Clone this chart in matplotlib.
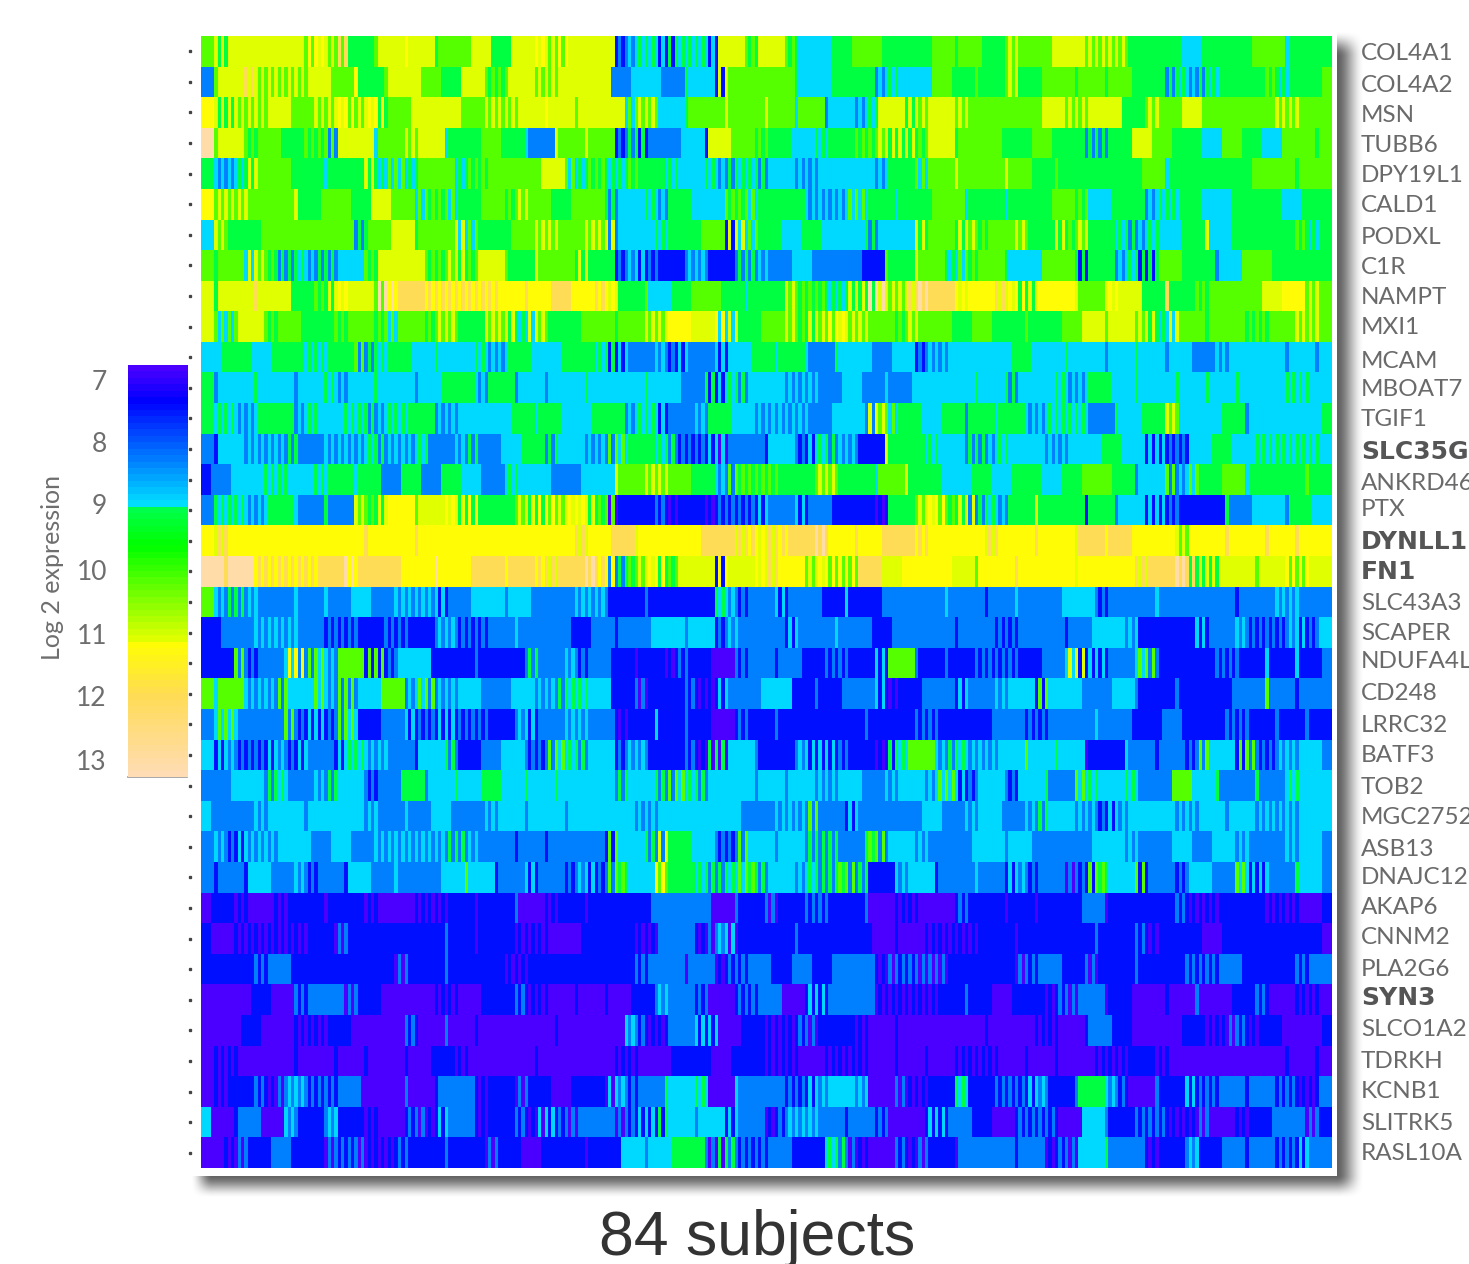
import numpy as np
import matplotlib
matplotlib.use('Agg')
import matplotlib.pyplot as plt
from matplotlib.colors import LinearSegmentedColormap
from matplotlib.patches import Rectangle

W, H = 1469, 1264

gene_labels = ['COL4A1', 'COL4A2', 'MSN', 'TUBB6', 'DPY19L1', 'CALD1', 'PODXL', 'C1R', 'NAMPT', 'MXI1',
               'MCAM', 'MBOAT7', 'TGIF1', 'SLC35G2', 'ANKRD46', 'PTX', 'DYNLL1', 'FN1', 'SLC43A3', 'SCAPER',
               'NDUFA4L2', 'CD248', 'LRRC32', 'BATF3', 'TOB2', 'MGC27522', 'ASB13', 'DNAJC12', 'AKAP6', 'CNNM2',
               'PLA2G6', 'SYN3', 'SLCO1A2', 'TDRKH', 'KCNB1', 'SLITRK5', 'RASL10A']
bold_genes = ['SLC35G2', 'DYNLL1', 'FN1', 'SYN3']
label_y = [51, 84, 114, 143, 174, 204, 236, 266, 295, 326, 359, 388, 418, 450, 482, 508, 540, 570, 602,
           631, 660, 692, 724, 754, 786, 815, 847, 876, 906, 935, 967, 996, 1028, 1060, 1090, 1122, 1151]

colorbar_ticks = [7, 8, 9, 10, 11, 12, 13]

# log2 expression, one letter per stripe
code_values = {'P': 6.76, 'B': 7.4, 'A': 8.23, 'C': 8.9, 'G': 9.1, 'L': 10.17,
               'Y': 11.1, 'W': 11.2, 'O': 12.0, 'T': 13.1}

expression_rows = [
    "LYGYYYYYYY LWYLOGGLYY WYYGLLLYYG GYYWYLWYYY YBACGCBGCG CBYYLGYYLG CCCGGLLLGG GGGLLGLLGG LYLLLYYYLY LYLGGGGGCC GGGGGLLLCG GGG",
    "ALYYOYLYLY LYYLLWGGLY YYLLGGYYLG LYYLYLYYYY YAACCCAAGC CBYLLLLLLG CCCGGGGACG CCCLLGGLGG LYGGLLLGLL GLLGGGAGCA GCGGGGLGCG GGL",
    "WYGYLYLYYL LYLYWLYWGL LYYYYYLLYL YLYYWYYLYY YYCLYLCCGL LLYLLLYLLC LLACCACGYY GYLYYLYLLL LLLLYYLYLY YYGGLYLLYY LLLLLLLYLY LLL",
    "TLYYLGLLGG LGLAYYYCLL YLYYCGGGLL GGCAAYLLYL LBAGBAAACC BYYLLGLGGC CGCGGLGLYG YGLYYGLLLL GGGLLGGGAG AGGYYLLGGG CCLLGGCCLL LGL",
    "GCACGYLLLG GGCGGGYGCL CGLLLCGLGL LLLLYYLCGL GCGLGGCGCC GCAGCGACCA CACCCCCACG GLCLLYLLLL YLLGGLGGGG GGGGLLCGGG GGGGGLLLLG LLL",
    "WLYLYLLLLY GGLLLGGYYL LCLGLCGGLL GLYLLGGLLL GACCGCAGGC CCLGLCGGGG CACACLCGGC GGGLLLCGGG CGGGGLLGLC CGGGACGCGG CCCGGGGGCC GGG",
    "CYLGGGLLLL LLLLLAGLLY YGLLLYCLGG GLLYLYLLYL YACCCGCGGG LLBYCLGGCC GGCCCCGACC CYGLLGYLGL LYLGGYGLYG GCGACGCCGG YCCGGGGGGL GCG",
    "LGLLCYLGAG CAGACCLGYY YYLGLYGLYY LGGYLLLGYG GBACBABBAC ABBAGACAAC CAAAAABBLG GYLLGCLGLL GCCCLLLGBG GACGBGLLGG GACCLLLGGG GGG",
    "YGYYYOYYYG GLGYWYYLTW OOWOWOWOWO WWOWWOOWWO WYGGLCCGGL LLGGCGGGYL GLGCGYGTYL YOTOOWYWWO YWGYWWWYLL YWYYGGOGGL GLLLLLYYWW LYL",
    "YLCLYYLGLL GGGLGLLGLC LLGLYLGGYL YGCYLGGGLL LGLLYLYWWY YWCYGGLLYL GYLWYLYLLG LYLLLGGLLG GGLGGGLLYY LYYLYGCYLL GLLLGLGLLY LYL",
    "CCGGGCCGGG CGCGGLAGCG GCCGCCCGCA CGGCCCGGGC GBCAACABCA ACBCCGGCGG CAAGCCCAAC CBACACCCCC CGGCCCGCCC ACCGCCACCA ACACCCCCAC CAC",
    "GACCCGCCCA CCGCACCGCC CACCGGGCAG GACCACCCGC CCCCGCCCAA GBCGACCCAC ACAACCAACA ACCCCCCGCC GACCCGCACG GCCGCCCGCC GCCGCCCCGC GCC",
    "GCGCACGGGA CGCCGCGACG CGGACACCCC CGGCGGCCCG GGACGCBAAC AGGCCACACA CAACCCAYLC GGCCGGAGGC GGCACGCGCA AGCCGGYLCC CCGGACCCCC CCG",
    "ABCCACACAG AACACACGAC ACGAACAGAA CCGGAGCCAC ALCGGCGABA BCPAAABCCA BCGACABBYG GGCGCCAGAC GCCCACACCC GGCCBCBABC CGGCCGCGCG CGC",
    "BAACCCGCGC CGCGGCGGAA GGAAGGCCAA CGCCCAAACC CYLLYLYLLG GCALGLGLGG GLYLGGGCLL YGGGCCCGGC CGGGCCGGLL LGGACCLACL GGLLCGGGGG LGG",
    "AGCGCACGGC AAGAAYLGYW WLYYWYGWGG GLYGWLYWYG LPBBBABPBB PBABABCAAC BAABBBBPBG GLYWLGYAGC AGGYGGGGBG GACCBCBABB BBGAACCCAG GCC",
    "WYOWWWWWWW WWWWWWOWWW WOWWWWWWWW WWWWWWWOYW WOOYWWWWWW OOOYOWYOWO OTOWWOWWOO OWOWWWWWYO WWWOWWWYOO WOOWWWWYLW WWOWWWOWWO WWW",
    "TTOTTWOWOW OWOOTWOOOO WWWTWWWOOO WOOWOYOOTO WAGLYWGLYY YBWYYWYOWW LYWLWLOOYY WWWWWYYLWW WOWWWWWYWW WWWOYOOTOG YGYYYLYYWL WYY",
    "LCAGACAAAC AACAACCAAC ACACBAACCC ACCAAAACAC ABBBABBBBB BGCABAACBA AABBCBBBAA AAAACAAABA ACAAAACCCA BAAAACAAAA AAABAAACAC AAA",
    "BBAAACACAC AABABABBAB ABBACABABA ACAAAAABBA ABAAACCCAC CBACAAAABC AAACAAABBA AAAAABAAAB ABAAAABAAC CCACBBBBBC BAACABABAC BAC",
    "BBBLABAACW ALCALLBLBA CCCBBBBABB BBAGAACABA ABBPBBPBAB BPPABAABAA BBABABBCBL LABBABBABA BABBAACYBC BAACLABBBB BABABBCBBC BBA",
    "LCLLCACALC CLCALACCLL ACLACACCAA ACCACAGCGC CBBAPBBBAB PBCAAACCCB BABBAAACBP BBAAABCAAC ACCBLCCCAA ACCABBBABB BBBAAALAAB AAA",
    "ACLCAAAALA BCBALCBBAA CBABCBABAB BACBAACACA ABPBBCBBAB BPPBABBABB BBBBBBABBB BABABBBBBA AABABAAAAC AAABBBAABB BBABABBABB ABB",
    "CBCABABCAB CAABCGCACA ABCCGABBAA CCABALCGAC CBACABBBAB PGPCCABBBA CBCBABBPBG CLLCAGCACA CCLCCGCCPB BBCAABAABA LCCBLABACA CCA",
    "AAACCCAGCA ACAGCCABAA GGACCGCCGG CCGCCGCCCC CAGCCGALCG ACCCCACCAC CACACCAACA CCACLCBACC ABCCGAALCG CCGCAAALLC CGAAAGAACG CCC",
    "CAAAACACCC ACCCCCACAA CAACCAAACA CCACCCACCC CCCACACCCC CCCCAAACAC ALAABCAAAA AACCAACACC AACAGCCACA BCACCCCACA CCACCACACA CCC",
    "ACABCACACC CAACCAACAC ACACAGACAA ABAABAAAAA BLCCGAYGGC CABALCCACC AGAGAAGLAC CACAAAACCC ACCAAAAAAC CCACAAACCA ACCACAAACA CCA",
    "ABAABCCAAC ABAABCCAAC AAAACCLCCB AACBAABACB ALGCCWLGGC GAGCLGACCA CGAGLAGBBC ACCBAAACAA BCABAAPABL GCCLBAABAC CAALCBCAAG CCA",
    "PBBPBPPBPB BBPBBBPBPP PBPBPBBPBB BAPPBPBBPB BBBBBAAAAA APPABBAPBB ABABBBAPPB PBPPPBABBB PBBPBBBBAA PBBBBBBABP BPBBBBPBPB PPB",
    "BPPBPBPBPB PBBPABBBBB BBBBABBPBB BPBPBPPPBB BBBPBPAAAB PACPBBBBBA BBBBBBBPPB PPBPBPBPBB BPBBBBBBBA BBBABPBBBB PPBBBBBBBB BBP",
    "BBBBBABAAB BBBBBBBBBP ABBBABBBBB PBPBBBBBBB BBBABAAAPA APBABAABBA ABBAAAABPA BAPAPBBBBB BPABAABBAP BBBABBBBAB ABAABBBBBA BAA",
    "PPPPPBBPPA BAAAPABBPP PPPBPBPPBB BABPBPPBPP BPPBBACAAB APPBABAAPP BCBAAAAPBP BPBPBBABBP PBBBPBAPAA PBBPPPBPPA PPPBBABPPB PBP",
    "PPPPBBPPPB PBPBBPPPPP ABPPAPPBPP PPPPPBPPPP PPCABPBAAC BCPPBBPBPB APBBBPBPPB PPPPPPPPBP PPPBPBPPBA ABBPPPPPBB PBPABPBBPP PPB",
    "PBPBPPPPPB PPPBPPBPPP BPPBBPBPPP PPPBPPPPPP PBPBPPPBBB BPPBBBPBPB PPBPBPBPPB PPBPPBPBPB PPBPPBPPPB PBPBBPBPPP PPPPPPPPBP PBP",
    "PBPBBABPAC ABABAAPPPP APPBAAABPB BPABBPPBBB PCABAAGCCG CPPCAAAABA BCACCACPPA PBPBBGCBBA BABCABBAGG CABPPABBCB ABAABAABAB PBA",
    "CPPBAAPPCA BBACBBPBPP BAPBCAABPB BABPCBAPAA APABCBGCCA CCBCAAPBAC ACAABAABAP PPBCBAABBP PBABABPPCC ABBABABPBP APPBPBBAAA PAB",
    "PPBPABBAAB BBPABAPBPB ABBBABBBPA BBPPBBBBPB BBCCACCGGG APGABABAAB BBCGAPBPPA BPABBPAAAA ABAAPBAPCC GAAABPBBAC BBAABAABAB CAA",
]

N_COLS = 113
matrix = []
for row in expression_rows:
    row = row.replace(' ', '')
    row = row[:N_COLS].ljust(N_COLS, row[-1])
    # my letters are about 10 px wide, the real stripes are often 3 px: a letter that
    # differs from both neighbours was read as a narrow stripe, so it gets a third of the cell
    cells = []
    for i, c in enumerate(row):
        left = row[max(i - 1, 0)]
        right = row[min(i + 1, N_COLS - 1)]
        if c != left and c != right:
            cells += [left, c, right]
        else:
            cells += [c, c, c]
    matrix.append([code_values[c] for c in cells])
matrix = np.array(matrix)

# colour scale of the legend, with its jump from cyan to green
vmin, vmax = 6.76, 13.25
nodes = [(6.76, '#4b00ff'), (7.28, '#0000ff'), (8.98, '#00e5ff'), (8.98, '#00ff50'), (9.6, '#00ff00'),
         (11.13, '#e5ff00'), (11.13, '#ffff00'), (12.0, '#ffdc55'), (13.25, '#ffdcb4')]
cmap = LinearSegmentedColormap.from_list('expr', [((v - vmin) / (vmax - vmin), c) for v, c in nodes], N=1024)


def px_axes(fig, x0, y0, x1, y1):
    return fig.add_axes([x0 / W, 1 - y1 / H, (x1 - x0) / W, (y1 - y0) / H])


def smooth(t):
    t = np.clip(t, 0, 1)
    return t * t * (3 - 2 * t)


plt.rcParams['font.family'] = ['Lato', 'DejaVu Sans']
fig = plt.figure(figsize=(W / 100, H / 100), dpi=100)

bg = fig.add_axes([0, 0, 1, 1])
bg.set_xlim(0, W)
bg.set_ylim(H, 0)
bg.axis('off')

# drop shadow behind the white panel
xs, ys = np.meshgrid(np.arange(W), np.arange(H))
alpha_x = smooth((xs - 190) / 22) * (1 - smooth((xs - 1336) / 28))
alpha_y = smooth((ys - 30) / 26) * (1 - smooth((ys - 1174) / 24))
shadow = 1 - 0.62 * alpha_x * alpha_y
bg.imshow(shadow, extent=(0, W, H, 0), cmap='gray', vmin=0, vmax=1, aspect='auto', zorder=1)
bg.add_patch(Rectangle((189, 29), 1148, 1147, fc='white', ec='none', zorder=2))

top, bottom = 36, 1168
row_h = (bottom - top) / len(gene_labels)
row_centers = top + row_h * (np.arange(len(gene_labels)) + 0.5)
bg.plot(np.full(len(row_centers), 190), row_centers, ls='none', marker='s', ms=1.4, color='#444444', zorder=3)

ax = px_axes(fig, 201, top, 1332, bottom)
ax.imshow(matrix, cmap=cmap, vmin=vmin, vmax=vmax, aspect='auto', interpolation='nearest')
ax.axis('off')

# legend bar
cb = px_axes(fig, 128, 365, 187, 777)
scale = np.linspace(vmin, vmax, 64).reshape(-1, 1)
cb.imshow(scale, cmap=cmap, vmin=vmin, vmax=vmax, aspect='auto', extent=(0, 1, vmax, vmin), interpolation='nearest')
cb.axis('off')
bg.plot([128, 187], [777, 777], color='#999999', lw=1.2, zorder=3)

tick_y = [382, 444, 507, 573, 636, 699, 763]
for t, y in zip(colorbar_ticks, tick_y):
    bg.text(107, y, str(t), ha='right', va='center', fontsize=19, color='#6e6e6e', zorder=4)
bg.text(53, 567, 'Log 2 expression', rotation=90, ha='center', va='center', fontsize=18,
        color='#6e6e6e', zorder=4)

for name, y in zip(gene_labels, label_y):
    if name in bold_genes:
        bg.text(1361, y + 2, name, ha='left', va='center', fontsize=18, color='#555555',
                family=['DejaVu Sans'], fontweight='bold', zorder=4)
    else:
        bg.text(1361, y + 2, name, ha='left', va='center', fontsize=17.5, color='#6a6a6a', zorder=4)

bg.text(757, 1255, '84 subjects', ha='center', va='baseline', fontsize=45, color='#333333',
        family=['Liberation Sans', 'DejaVu Sans'], zorder=4)

fig.savefig('out.png', dpi=100)
